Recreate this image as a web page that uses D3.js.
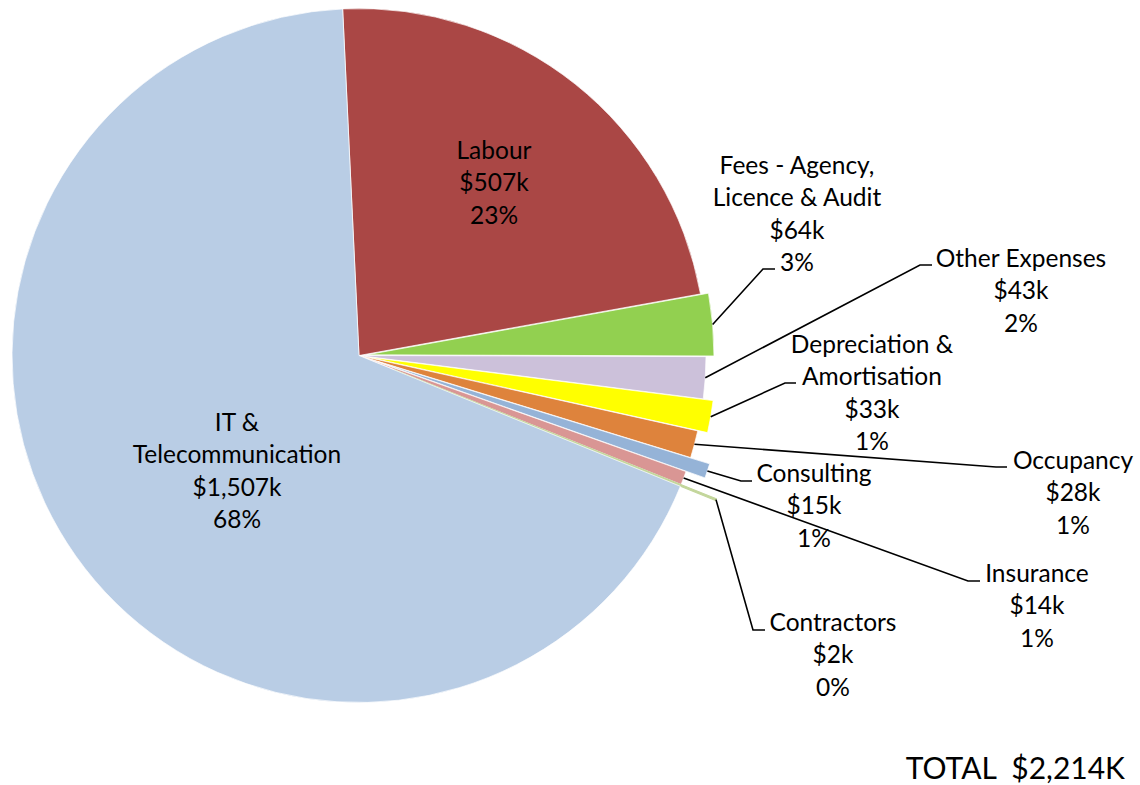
<!DOCTYPE html>
<html>
<head>
<meta charset="utf-8">
<script src="https://cdn.jsdelivr.net/npm/d3@7"></script>
<style>
  html, body { margin: 0; padding: 0; background: #fff; }
  svg { display: block; }
  text { font-family: Lato, "Open Sans", sans-serif; fill: #000; }
</style>
</head>
<body>
<div id="chart"></div>
<script>
// 数据
const categories = ['Labour', 'Fees - Agency, Licence & Audit', 'Other Expenses', 'Depreciation & Amortisation',
  'Occupancy', 'Consulting', 'Insurance', 'Contractors', 'IT & Telecommunication'];
const values = [507, 64, 43, 33, 28, 15, 14, 2, 1507];
const labelLines = [['Labour'], ['Fees - Agency,', 'Licence & Audit'], ['Other Expenses'], ['Depreciation &', 'Amortisation'],
  ['Occupancy'], ['Consulting'], ['Insurance'], ['Contractors'], ['IT &', 'Telecommunication']];
const totalLabel = 'TOTAL  $2,214K';

// 样式 / 布局
const colors = ['#AA4745', '#92D050', '#CCC1DA', '#FFFF00', '#DE833C', '#95B3D7', '#D99694', '#C3D69B', '#B9CDE5'];
const explode = [0, 8, 0, 10, 0, 20, 0, 38, 0];
// label 中心 x, 第一行 y; leader 拐点 [x,y] 和终点 x
const labelPos = [
  { x: 494, y: 150 },
  { x: 797, y: 165, elbow: [763, 269], end: 775 },
  { x: 1021, y: 258, elbow: [920, 265], end: 932 },
  { x: 872, y: 344, elbow: [785, 383], end: 796 },
  { x: 1073, y: 460, elbow: [996, 467], end: 1007 },
  { x: 814, y: 473, elbow: [741, 481], end: 752 },
  { x: 1037, y: 573, elbow: [968, 581], end: 980 },
  { x: 833, y: 622, elbow: [753, 630], end: 765 },
  { x: 237, y: 422 }
];

const width = 1140, height = 785;
const cx = 359, cy = 355.5, R = 347;
const lineH = 32.5;
const startDeg = -2.7;

const total = d3.sum(values);
const data = categories.map((c, i) => ({ name: c, value: values[i], i }));

const svg = d3.select('#chart').append('svg')
  .attr('width', width)
  .attr('height', height);

const pie = d3.pie()
  .sort(null)
  .value(d => d.value)
  .startAngle(startDeg * Math.PI / 180)
  .endAngle(startDeg * Math.PI / 180 + 2 * Math.PI);

const arc = d3.arc().innerRadius(0).outerRadius(R);
const arcs = pie(data);

const g = svg.append('g').attr('transform', `translate(${cx},${cy})`);

// 扇形
g.selectAll('path.slice')
  .data(arcs)
  .enter().append('path')
  .attr('class', 'slice')
  .attr('d', arc)
  .attr('transform', d => {
    const mid = (d.startAngle + d.endAngle) / 2;
    const off = explode[d.index];
    return `translate(${off * Math.sin(mid)},${-off * Math.cos(mid)})`;
  })
  .style('fill', d => colors[d.index])
  .style('stroke', d => (d.endAngle - d.startAngle) < 0.01 ? colors[d.index] : '#fff')
  .style('stroke-width', d => (d.endAngle - d.startAngle) < 0.01 ? 1.2 : 0.7);

// 引线
const fmtVal = d3.format(',');
arcs.forEach(d => {
  const p = labelPos[d.index];
  if (!p.elbow) return;
  const mid = (d.startAngle + d.endAngle) / 2;
  const r = R + explode[d.index];
  const sx = cx + r * Math.sin(mid), sy = cy - r * Math.cos(mid);
  svg.append('polyline')
    .attr('points', `${sx},${sy} ${p.elbow[0]},${p.elbow[1]} ${p.end},${p.elbow[1]}`)
    .style('fill', 'none')
    .style('stroke', '#000')
    .style('stroke-width', 1.6);
});

// 标签
arcs.forEach(d => {
  const p = labelPos[d.index];
  const lines = labelLines[d.index].concat([
    '$' + fmtVal(d.data.value) + 'k',
    Math.round(d.data.value / total * 100) + '%'
  ]);
  const t = svg.append('text')
    .attr('text-anchor', 'middle')
    .style('font-size', '24.5px');
  lines.forEach((l, k) => {
    t.append('tspan')
      .attr('x', p.x)
      .attr('y', p.y + k * lineH)
      .attr('dy', '0.35em')
      .text(l);
  });
});

// 合计
svg.append('text')
  .attr('x', 1125)
  .attr('y', 768)
  .attr('dy', '0.35em')
  .attr('text-anchor', 'end')
  .style('font-size', '30px')
  .style('white-space', 'pre')
  .text(totalLabel);
</script>
</body>
</html>
